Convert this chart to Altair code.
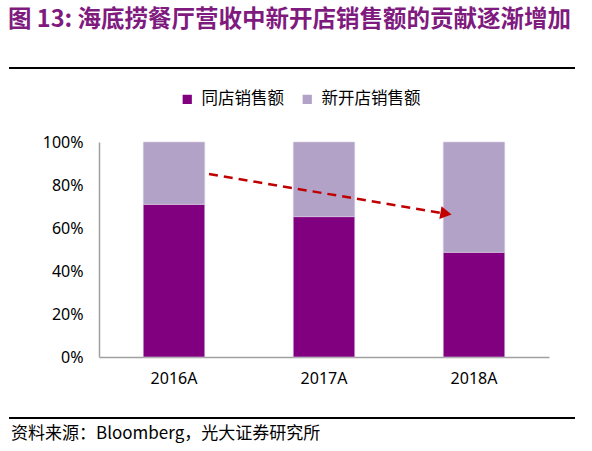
import altair as alt
import pandas as pd

# ---- data ----
years = ["2016A", "2017A", "2018A"]
series = ["同店销售额", "新开店销售额"]
same_store = [0.710, 0.653, 0.487]
new_store = [0.290, 0.347, 0.513]
colors = ["#800080", "#B3A2C7"]

title_text = "图 13: 海底捞餐厅营收中新开店销售额的贡献逐渐增加"
source_text = "资料来源：Bloomberg，光大证券研究所"

# trend arrow (annotation): start / end share levels
arrow_y = [0.851, 0.671]
arrow_head_y = [0.667]

rows = []
for i, yr in enumerate(years):
    rows.append({"year": yr, "series": series[0], "value": same_store[i], "ord": 0})
    rows.append({"year": yr, "series": series[1], "value": new_store[i], "ord": 1})
df = pd.DataFrame(rows)

FONT = "Noto Sans CJK SC"
LAT = "Noto Sans"

yscale = alt.Scale(domain=[0, 1])

bars = alt.Chart(df).mark_bar(stroke="#D8D0E4", strokeWidth=0.6).encode(
    x=alt.X("year:N", sort=years, title=None,
            scale=alt.Scale(paddingInner=0.59, paddingOuter=0.295),
            axis=alt.Axis(labelAngle=0, labelFont=LAT, labelFontSize=16, labelColor="#000000",
                          ticks=False, labelPadding=13, domainColor="#A0A0A0", domainWidth=1.5)),
    y=alt.Y("value:Q", stack="zero", scale=yscale, title=None,
            axis=alt.Axis(format=".0%", values=[0, 0.2, 0.4, 0.6, 0.8, 1.0], grid=False,
                          ticks=False, labelFont=LAT, labelFontSize=16, labelColor="#000000",
                          labelPadding=16, domainColor="#A0A0A0", domainWidth=1.5)),
    color=alt.Color("series:N", sort=series,
                    scale=alt.Scale(domain=series, range=colors),
                    legend=alt.Legend(title=None, orient="none", direction="horizontal",
                                      legendX=80, legendY=-51, symbolType="square",
                                      symbolSize=85, symbolStrokeWidth=0, labelFont=FONT,
                                      labelFontSize=16.5, labelColor="#000000",
                                      columnPadding=15, labelOffset=6, padding=0)),
    order=alt.Order("ord:Q"),
)

arrow_df = pd.DataFrame({"y1": [arrow_y[0]], "y2": [arrow_y[1]]})
arrow_line = alt.Chart(arrow_df).mark_rule(
    stroke="#C00000", strokeWidth=2.5, strokeDash=[9, 6]
).encode(
    x=alt.value(110), x2=alt.value(341),
    y=alt.Y("y1:Q", scale=yscale), y2="y2:Q",
)

head_df = pd.DataFrame({"y": arrow_head_y})
arrow_head = alt.Chart(head_df).mark_point(
    shape="triangle-right", filled=True, color="#C00000", opacity=1, size=170, angle=9.5
).encode(
    x=alt.value(347),
    y=alt.Y("y:Q", scale=yscale),
)

one = alt.Data(values=[{"a": 1}])

title = alt.Chart(one).mark_text(
    text=title_text, font=FONT, fontSize=23.5, fontWeight="bold", color="#7F1A7F",
    align="left", baseline="middle"
).encode(x=alt.value(-91), y=alt.value(-122))

top_rule = alt.Chart(one).mark_rule(color="#000000", strokeWidth=2).encode(
    x=alt.value(-90), x2=alt.value(476), y=alt.value(-74))

bottom_rule = alt.Chart(one).mark_rule(color="#000000", strokeWidth=2).encode(
    x=alt.value(-90), x2=alt.value(476), y=alt.value(276))

source = alt.Chart(one).mark_text(
    text=source_text, font=FONT, fontSize=17, color="#000000",
    align="left", baseline="middle"
).encode(x=alt.value(-88), y=alt.value(292))

chart = alt.layer(bars, arrow_line, arrow_head, title, top_rule, bottom_rule, source).properties(
    width=450, height=215, autosize="none", background="#FFFFFF",
    padding={"left": 99, "top": 142, "right": 43, "bottom": 94},
).configure_view(stroke=None)

chart.save("out.html", embed_options={"renderer": "svg", "actions": False})
